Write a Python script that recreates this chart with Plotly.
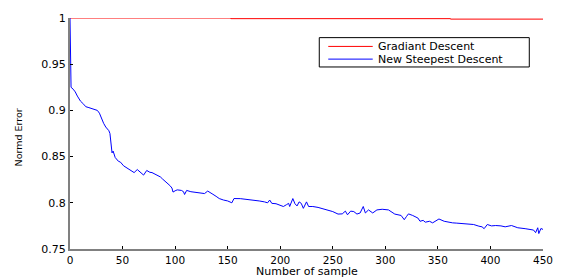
import plotly.graph_objects as go

series_names = ["Gradiant Descent", "New Steepest Descent"]
series_colors = ["#ff0000", "#0000ff"]

# Gradiant Descent (step values)
gd_x = [0, 153, 362, 450]
gd_y = [1.0, 0.9993, 0.9988, 0.9988]

# New Steepest Descent
nsd_x = [0, 1, 3, 5, 7, 10, 13, 15, 18, 21, 24, 26, 28, 30, 32, 34, 37, 38, 39, 40,
         41, 43, 46, 48, 51, 54, 56, 58, 61, 64, 66, 68, 70, 73, 76, 78, 81, 84, 86, 88,
         90, 92, 95, 97, 98, 100, 102, 106, 108, 109, 111, 115, 120, 125, 128, 131, 134, 136, 139, 142,
         146, 150, 154, 156, 162, 167, 174, 180, 185, 188, 190, 192, 196, 200, 203, 206, 208, 209, 212, 214,
         216, 218, 220, 222, 225, 227, 231, 236, 241, 246, 250, 255, 259, 262, 264, 267, 270, 273, 276, 279,
         281, 284, 288, 292, 297, 303, 309, 315, 318, 320, 322, 326, 329, 331, 333, 336, 338, 342, 345, 348,
         351, 356, 360, 364, 368, 373, 379, 384, 389, 392, 394, 397, 401, 405, 410, 414, 420, 426, 433, 437,
         441, 443, 445, 446, 448, 450]
nsd_y = [1.000, 0.925, 0.923, 0.920, 0.9155, 0.910, 0.9067, 0.904, 0.903, 0.902, 0.901, 0.900, 0.897, 0.891, 0.886, 0.882, 0.878, 0.875, 0.860, 0.854,
         0.856, 0.849, 0.845, 0.844, 0.840, 0.838, 0.836, 0.8345, 0.8327, 0.836, 0.834, 0.833, 0.830, 0.835, 0.833, 0.8327, 0.831, 0.830, 0.828, 0.8258,
         0.824, 0.822, 0.8187, 0.816, 0.8116, 0.813, 0.814, 0.8134, 0.812, 0.809, 0.8134, 0.812, 0.811, 0.8105, 0.810, 0.8127, 0.810, 0.8092, 0.807, 0.8046,
         0.803, 0.802, 0.800, 0.8046, 0.8045, 0.804, 0.803, 0.802, 0.801, 0.800, 0.803, 0.7994, 0.799, 0.7976, 0.796, 0.798, 0.7994, 0.796, 0.8046, 0.799,
         0.7966, 0.801, 0.7994, 0.794, 0.801, 0.796, 0.796, 0.795, 0.7933, 0.792, 0.7905, 0.7878, 0.788, 0.791, 0.787, 0.791, 0.7905, 0.7878, 0.789, 0.796,
         0.789, 0.7923, 0.789, 0.7923, 0.793, 0.7923, 0.7878, 0.7863, 0.7817, 0.785, 0.788, 0.7863, 0.785, 0.7835, 0.780, 0.781, 0.779, 0.780, 0.7783, 0.780,
         0.7825, 0.780, 0.779, 0.7783, 0.778, 0.7775, 0.777, 0.7765, 0.7747, 0.774, 0.772, 0.7765, 0.775, 0.7754, 0.775, 0.774, 0.7754, 0.773, 0.772, 0.771,
         0.7705, 0.7677, 0.773, 0.7667, 0.7722, 0.7712]

x_ticks = [0, 50, 100, 150, 200, 250, 300, 350, 400, 450]
y_ticks = [0.75, 0.8, 0.85, 0.9, 0.95, 1]
y_tick_labels = ["0.75", "0.8", "0.85", "0.9", "0.95", "1"]

fig = go.Figure()
fig.add_trace(go.Scatter(x=gd_x, y=gd_y, mode="lines", name=series_names[0],
                         line=dict(color=series_colors[0], width=1, shape="hv")))
fig.add_trace(go.Scatter(x=nsd_x, y=nsd_y, mode="lines", name=series_names[1],
                         line=dict(color=series_colors[1], width=1)))

font_family = "DejaVu Sans, Liberation Sans, Arial, sans-serif"

# legend box drawn in paper coordinates (MATLAB-style compact legend)
shapes = [dict(type="rect", xref="paper", yref="paper", x0=0.527, x1=0.971,
               y0=0.788, y1=0.915, line=dict(color="black", width=1),
               fillcolor="white", layer="above")]
annotations = [
    dict(text="Number of sample", xref="paper", yref="paper", x=0.5, y=-0.0975,
         xanchor="center", yanchor="middle", showarrow=False, font=dict(size=11)),
    dict(text="Normd Error", xref="paper", yref="paper", x=-0.110, y=0.483,
         xanchor="center", yanchor="middle", textangle=-90, showarrow=False,
         font=dict(size=9.5)),
]
legend_rows = [0.877, 0.822]
for name, color, ry in zip(series_names, series_colors, legend_rows):
    shapes.append(dict(type="line", xref="paper", yref="paper", x0=0.546, x1=0.640,
                       y0=ry, y1=ry, line=dict(color=color, width=1), layer="above"))
    annotations.append(dict(text=name, xref="paper", yref="paper", x=0.648, y=ry,
                            xanchor="left", yanchor="middle", showarrow=False,
                            font=dict(size=11), borderpad=0))

fig.update_layout(
    width=565, height=279,
    margin=dict(l=70, r=15, t=13, b=30),
    paper_bgcolor="white", plot_bgcolor="white",
    font=dict(family=font_family, size=11, color="black"),
    showlegend=False,
    xaxis=dict(range=[0, 450], tickvals=x_ticks, ticks="inside", ticklen=3,
               tickcolor="black", showline=True, linecolor="#808080", linewidth=2,
               showgrid=False, zeroline=False, tickfont=dict(size=10.5)),
    yaxis=dict(range=[0.75, 1], tickvals=y_ticks, ticktext=y_tick_labels,
               ticks="inside", ticklen=3, tickcolor="black", showline=True,
               linecolor="#808080", linewidth=2, showgrid=False, zeroline=False,
               tickfont=dict(size=11)),
    shapes=shapes,
    annotations=annotations,
)

fig.write_html("out.html", post_script="document.body.style.margin='0';",
               config={"displayModeBar": False})
